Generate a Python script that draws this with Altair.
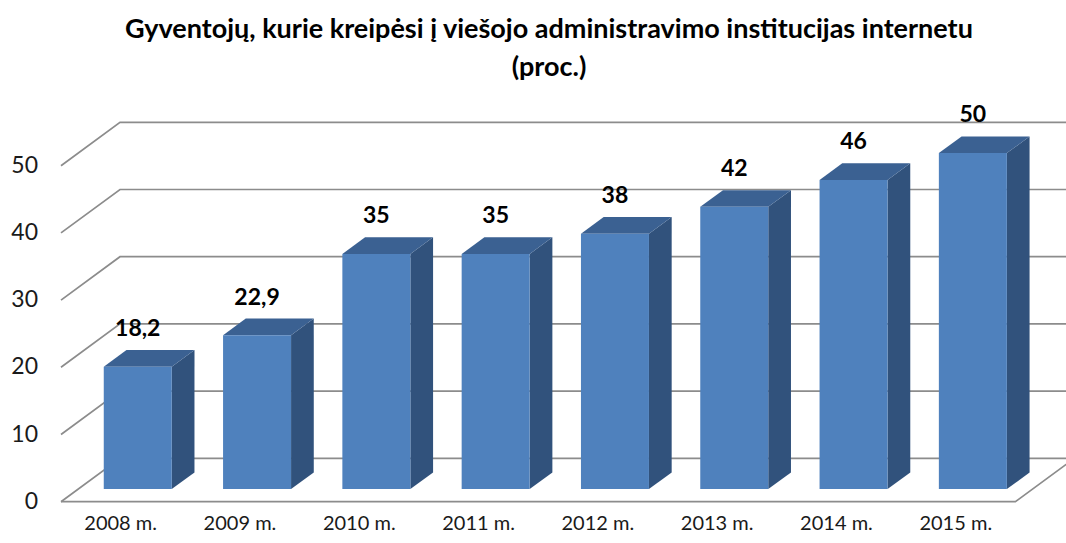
import altair as alt
import pandas as pd

# ---- data ----
categories = ["2008 m.", "2009 m.", "2010 m.", "2011 m.", "2012 m.", "2013 m.", "2014 m.", "2015 m."]
values = [18.2, 22.9, 35, 35, 38, 42, 46, 50]
value_labels = ["18,2", "22,9", "35", "35", "38", "42", "46", "50"]
y_ticks = [0, 10, 20, 30, 40, 50]
title_lines = ["Gyventojų, kurie kreipėsi į viešojo administravimo institucijas internetu", "(proc.)"]

# ---- geometry / style ----
W, H = 1066, 543
LEFT_PX, BAND_PX = 61.0, 119.3      # front-left corner of the floor, width of one category
BASE_PX, UNIT_PX = 501.7, 6.72      # pixel row of 0 on the front plane, pixels per unit
DEPTH_X_PX, DEPTH_Y_PX = 59.0, 43.4  # oblique depth of the box
BAR_FRAC = 0.57
D_FRONT, D_BACK = 0.29, 0.675
FONT = "Lato"
C_FRONT, C_SIDE, C_TOP, C_GRID = "#4f81bd", "#31527c", "#3b6192", "#8c8c8c"

n = len(categories)
DX = DEPTH_X_PX / BAND_PX
DY = DEPTH_Y_PX / UNIT_PX
x_dom = [-LEFT_PX / BAND_PX, (W - LEFT_PX) / BAND_PX]
y_dom = [(BASE_PX - H) / UNIT_PX, BASE_PX / UNIT_PX]
xs = alt.Scale(domain=x_dom, nice=False, zero=False)
ys = alt.Scale(domain=y_dom, nice=False, zero=False)


def proj(u, v, d):
    return u + d * DX, v + d * DY


# gridlines: left wall diagonal + back wall horizontal
grid_rows = []
for t in y_ticks:
    pts = [proj(0, t, 0), proj(0, t, 1), (x_dom[1], t + DY)]
    for s, (x, y) in enumerate(pts):
        grid_rows.append({"id": f"g{t}", "seq": s, "x": x, "y": y})
# floor front and right edges
for s, (x, y) in enumerate([proj(0, 0, 0), proj(n, 0, 0), proj(n, 0, 1)]):
    grid_rows.append({"id": "floor", "seq": s, "x": x, "y": y})
grid_df = pd.DataFrame(grid_rows)

front_rows, side_rows, top_rows, lab_rows = [], [], [], []
for i, (c, v, lab) in enumerate(zip(categories, values, value_labels)):
    ul = i + 0.5 - BAR_FRAC / 2
    ur = i + 0.5 + BAR_FRAC / 2
    xlf, y0f = proj(ul, 0, D_FRONT)
    xrf, vtf = proj(ur, v, D_FRONT)
    xlb, y0b = proj(ul, 0, D_BACK)
    xrb, vtb = proj(ur, v, D_BACK)
    front_rows.append({"bar": c, "x": xlf, "x2": xrf, "y": y0f, "y2": vtf})
    side_rows += [
        {"bar": i, "x": xrf, "lo": y0f, "hi": vtf},
        {"bar": i, "x": xrb, "lo": y0b, "hi": vtb},
    ]
    top_rows += [
        {"bar": i, "x": xlf, "lo": vtf, "hi": vtf},
        {"bar": i, "x": xlb, "lo": vtf, "hi": vtb},
        {"bar": i, "x": xrf, "lo": vtf, "hi": vtb},
        {"bar": i, "x": xrb, "lo": vtb, "hi": vtb},
    ]
    lab_rows.append({"bar": c, "label": lab, "x": i + 0.5 + D_FRONT * DX, "y": vtb,
                     "cx": i + 0.5, "cy": 0.0})
front_df = pd.DataFrame(front_rows)
side_df = pd.DataFrame(side_rows)
top_df = pd.DataFrame(top_rows)
lab_df = pd.DataFrame(lab_rows)
tick_df = pd.DataFrame({"t": y_ticks, "x": [0.0] * len(y_ticks), "label": [str(t) for t in y_ticks]})

grid = alt.Chart(grid_df).mark_line(color=C_GRID, strokeWidth=1.7).encode(
    x=alt.X("x:Q", scale=xs, axis=None), y=alt.Y("y:Q", scale=ys, axis=None),
    detail="id:N", order="seq:Q")

front = alt.Chart(front_df).mark_rect(color=C_FRONT).encode(
    x=alt.X("x:Q", scale=xs, axis=None), x2="x2:Q",
    y=alt.Y("y:Q", scale=ys, axis=None), y2="y2:Q")


def face(df, color):
    return alt.Chart(df).mark_area(color=color, orient="vertical", opacity=1, line=False).encode(
        x=alt.X("x:Q", scale=xs, axis=None),
        y=alt.Y("hi:Q", scale=ys, axis=None, stack=False),
        y2=alt.Y2("lo:Q"),
        detail=alt.Detail("bar:N"),
    )


side = face(side_df, C_SIDE)
top = face(top_df, C_TOP)

val_text = alt.Chart(lab_df).mark_text(font=FONT, fontSize=23, fontWeight="bold", color="#000000",
                                        baseline="middle", align="center", dy=-21).encode(
    x=alt.X("x:Q", scale=xs, axis=None), y=alt.Y("y:Q", scale=ys, axis=None), text="label:N")

cat_text = alt.Chart(lab_df).mark_text(font=FONT, fontSize=20, color="#1a1a1a",
                                        baseline="middle", align="center", dy=22).encode(
    x=alt.X("cx:Q", scale=xs, axis=None), y=alt.Y("cy:Q", scale=ys, axis=None), text="bar:N")

tick_text = alt.Chart(tick_df).mark_text(font=FONT, fontSize=23, color="#1a1a1a",
                                          baseline="middle", align="right", dx=-23).encode(
    x=alt.X("x:Q", scale=xs, axis=None), y=alt.Y("t:Q", scale=ys, axis=None), text="label:N")

title1 = alt.Chart(pd.DataFrame({"label": [title_lines[0]]})).mark_text(
    font=FONT, fontSize=27, fontWeight="bold", color="#000000", baseline="middle", align="center").encode(
    x=alt.value(549), y=alt.value(30), text="label:N")
title2 = alt.Chart(pd.DataFrame({"label": [title_lines[1]]})).mark_text(
    font=FONT, fontSize=27, fontWeight="bold", color="#000000", baseline="middle", align="center").encode(
    x=alt.value(549), y=alt.value(68), text="label:N")

chart = alt.layer(grid, side, top, front, val_text, cat_text, tick_text, title1, title2).properties(
    width=W, height=H, autosize=alt.AutoSizeParams(type="none"), padding=0,
    background="#ffffff"
).configure_view(strokeWidth=0)

chart.save("out.html", embed_options={"renderer": "svg", "actions": False})
